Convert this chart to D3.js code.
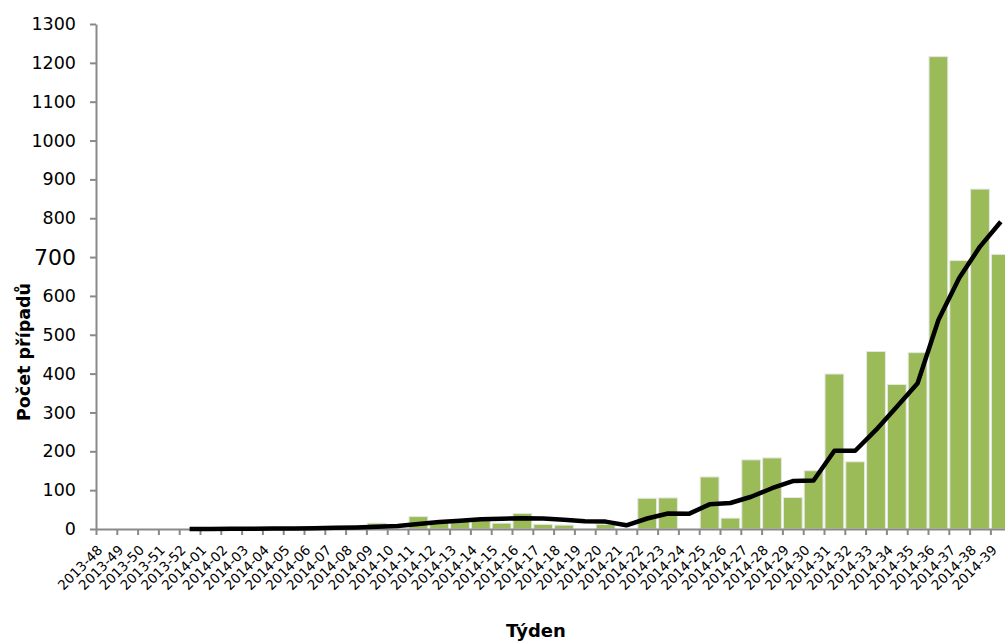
<!DOCTYPE html>
<html>
<head>
<meta charset="utf-8">
<script src="https://cdn.jsdelivr.net/npm/d3@7"></script>
<style>
  html, body { margin: 0; padding: 0; background: #fff; overflow: hidden; }
  svg { display: block; }
</style>
</head>
<body>
<svg id="chart" width="1005" height="642"></svg>
<script>
const categories = ["2013-48","2013-49","2013-50","2013-51","2013-52",
  "2014-01","2014-02","2014-03","2014-04","2014-05","2014-06","2014-07","2014-08","2014-09","2014-10",
  "2014-11","2014-12","2014-13","2014-14","2014-15","2014-16","2014-17","2014-18","2014-19","2014-20",
  "2014-21","2014-22","2014-23","2014-24","2014-25","2014-26","2014-27","2014-28","2014-29","2014-30",
  "2014-31","2014-32","2014-33","2014-34","2014-35","2014-36","2014-37","2014-38","2014-39"];

const weeklyCases = [0,0,0,0,0,
  0,0,0,0,0,0,0,0,15,0,
  32,20,20,22,15,40,12,10,0,12,
  0,79,80,0,134,28,178,183,81,150,
  399,173,457,372,454,1216,691,875,707];

// trend line, starting at 2013-52
const trendStart = 4;
const trendValues = [0,0,0.5,0.5,1,1,2,3,4,6,8,
  13,18,21,25,26.5,27.5,27,24,20,19,
  9.5,27,40,39,63.5,67,83,105,123.5,125,
  201.5,201.5,255,315,375,538,646,727,791];

const yTicks = [0,100,200,300,400,500,600,700,800,900,1000,1100,1200,1300];

(function () {
const svg = d3.select("#chart");
const mLeft = 96, mRight = 96 + 44 * 20.8, mTop = 24, mBottom = 529;

const x = d3.scaleBand().domain(categories).range([mLeft, mRight]).padding(0);
const xl = d3.scaleLinear().domain([0, categories.length]).range([mLeft, mRight]);
const y = d3.scaleLinear().domain([0, 1300]).range([mBottom, mTop]);
const bw = x.bandwidth();

const axisColor = "#898989";
const font = "'DejaVu Sans', Verdana, sans-serif";

// bars
svg.append("g").selectAll("rect")
  .data(categories.map((c, i) => ({c, v: weeklyCases[i]})).filter(d => d.v > 0))
  .join("rect")
  .attr("x", d => x(d.c) + 1)
  .attr("width", bw - 2)
  .attr("y", d => y(d.v))
  .attr("height", d => y(0) - y(d.v))
  .attr("fill", "#9BBB59")
  .attr("stroke", "#e6e6e6")
  .attr("stroke-width", 1);

// y axis
const yAxis = svg.append("g")
  .attr("transform", `translate(${mLeft},0)`)
  .call(d3.axisLeft(y).tickValues(yTicks).tickFormat(d3.format("d")).tickSize(6).tickSizeOuter(0).tickPadding(14));
yAxis.select(".domain").attr("stroke", axisColor).attr("stroke-width", 2);
yAxis.selectAll(".tick line").attr("stroke", axisColor).attr("stroke-width", 2);
yAxis.selectAll(".tick text")
  .attr("font-family", font)
  .attr("font-size", d => d === 700 ? 22 : 17.5)
  .attr("fill", "#000");

// x axis ticks (at category boundaries)
const xAxis = svg.append("g")
  .attr("transform", `translate(0,${mBottom})`)
  .call(d3.axisBottom(xl).tickValues(d3.range(categories.length + 1)).tickSize(6).tickSizeOuter(0).tickFormat(""));
xAxis.select(".domain").attr("stroke", axisColor).attr("stroke-width", 2);
xAxis.selectAll(".tick line").attr("stroke", axisColor).attr("stroke-width", 2);

// x labels
svg.append("g").selectAll("text")
  .data(categories)
  .join("text")
  .attr("transform", d => `translate(${x(d) + bw / 2 - 3},${mBottom + 22}) rotate(-45)`)
  .attr("text-anchor", "end")
  .attr("font-family", font)
  .attr("font-size", 13.5)
  .attr("fill", "#000")
  .text(d => d);

// trend line
const trend = trendValues.map((v, i) => ({c: categories[trendStart + i], v}));
svg.append("path")
  .datum(trend)
  .attr("fill", "none")
  .attr("stroke", "#000")
  .attr("stroke-width", 4.5)
  .attr("stroke-linejoin", "round")
  .attr("d", d3.line().x(d => x(d.c) + bw / 2).y(d => y(d.v)));

// axis titles
svg.append("text")
  .attr("transform", "translate(30,352) rotate(-90)")
  .attr("text-anchor", "middle")
  .attr("font-family", font)
  .attr("font-weight", "bold")
  .attr("font-size", 17.5)
  .text("Počet případů");

svg.append("text")
  .attr("x", 536)
  .attr("y", 637)
  .attr("text-anchor", "middle")
  .attr("font-family", font)
  .attr("font-weight", "bold")
  .attr("font-size", 18)
  .text("Týden");
})();
</script>
</body>
</html>
